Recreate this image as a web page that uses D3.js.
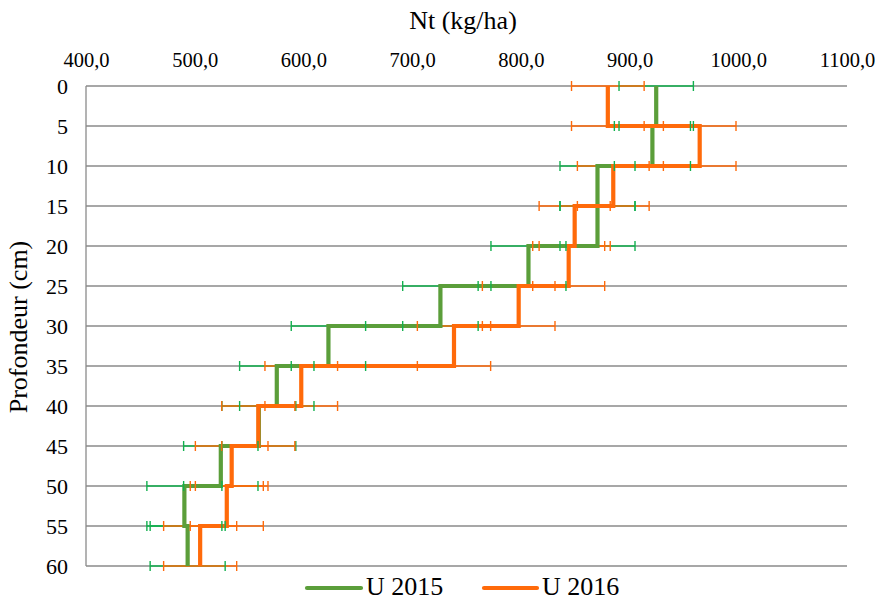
<!DOCTYPE html>
<html>
<head>
<meta charset="utf-8">
<script src="https://cdn.jsdelivr.net/npm/d3@7"></script>
<style>
  html, body { margin: 0; padding: 0; background: #fff; }
</style>
</head>
<body>
<svg id="chart" width="875" height="600"></svg>
<script>
// ---- data ----
const depthBounds = [0, 5, 10, 15, 20, 25, 30, 35, 40, 45, 50, 55, 60];
const xTickValues = [400, 500, 600, 700, 800, 900, 1000, 1100];
const seriesNames = ["U 2015", "U 2016"];
const u2015 = [924.5, 921, 870.5, 870.5, 807, 726, 623, 575.5, 559, 524, 490.5, 493.5];
const u2016 = [880, 964.5, 885, 849.5, 844, 798, 738.5, 598, 558.5, 534, 529.5, 505];
const err2015 = [34.2, 35, 34.5, 34.5, 34.5, 34.7, 34.2, 34.2, 34, 34.2, 34.5, 34.5];
const err2016 = [33.4, 33.4, 33, 32.7, 33.1, 33.4, 33.7, 33.4, 33.6, 33.4, 33.6, 33.6];

const lineColors = ["#5B9E3A", "#FF6A0A"];
const errColors = ["#12B04E", "#FF6A0A"];
const FONT = '"Liberation Serif", "Times New Roman", serif';

const svg = d3.select("#chart");
const pLeft = 86, pRight = 847, pTop = 86, pBottom = 566;

const x = d3.scaleLinear().domain([400, 1100]).range([pLeft, pRight]);
const y = d3.scaleLinear().domain([0, 60]).range([pTop, pBottom]);

const fmt = v => d3.format(".1f")(v).replace(".", ",");

// gridlines
svg.append("g").selectAll("line").data(depthBounds).join("line")
  .attr("x1", pLeft).attr("x2", pRight)
  .attr("y1", d => y(d)).attr("y2", d => y(d))
  .attr("stroke", "#8a8a8a").attr("stroke-width", 1.3);

// left axis line
svg.append("line").attr("x1", pLeft).attr("x2", pLeft).attr("y1", pTop).attr("y2", pBottom)
  .attr("stroke", "#8a8a8a").attr("stroke-width", 1.3);

// x axis (top) labels
const xAxis = d3.axisTop(x).tickValues(xTickValues).tickFormat(fmt).tickSize(0).tickPadding(0);
const gx = svg.append("g").attr("transform", `translate(0,67)`).call(xAxis);
gx.attr("font-family", FONT).attr("font-size", 20.5);
gx.select(".domain").remove();
gx.selectAll("text").attr("dy", 0).attr("fill", "#000");

// y axis labels
const yAxis = d3.axisLeft(y).tickValues(depthBounds).tickFormat(d3.format("d")).tickSize(0).tickPadding(0);
const gy = svg.append("g").attr("transform", `translate(68,0)`).call(yAxis);
gy.attr("font-family", FONT).attr("font-size", 22);
gy.select(".domain").remove();
gy.selectAll("text").attr("fill", "#000");

// titles
svg.append("text").attr("x", 463).attr("y", 29).attr("text-anchor", "middle")
  .attr("font-family", FONT).attr("font-size", 26).text("Nt (kg/ha)");
svg.append("text").attr("transform", "translate(27,327) rotate(-90)").attr("text-anchor", "middle")
  .attr("font-family", FONT).attr("font-size", 26).text("Profondeur (cm)");

// build points
function buildPoints(vals, errs) {
  const pts = [];
  vals.forEach((v, i) => {
    pts.push({ v: v, d: depthBounds[i], e: errs[i] });
    pts.push({ v: v, d: depthBounds[i + 1], e: errs[i] });
  });
  return pts;
}
const allSeries = [buildPoints(u2015, err2015), buildPoints(u2016, err2016)];

const line = d3.line().x(p => x(p.v)).y(p => y(p.d));

// error bar horizontal lines
allSeries.forEach((pts, si) => {
  svg.append("g").selectAll("line").data(pts).join("line")
    .attr("x1", p => x(p.v - p.e)).attr("x2", p => x(p.v + p.e))
    .attr("y1", p => y(p.d)).attr("y2", p => y(p.d))
    .attr("stroke", errColors[si]).attr("stroke-width", 1.4);
});

// step lines
allSeries.forEach((pts, si) => {
  svg.append("path").datum(pts).attr("d", line)
    .attr("fill", "none").attr("stroke", lineColors[si]).attr("stroke-width", 4.2)
    .attr("stroke-linejoin", "miter");
});

// error caps
allSeries.forEach((pts, si) => {
  const caps = [];
  pts.forEach(p => { caps.push({ v: p.v - p.e, d: p.d }); caps.push({ v: p.v + p.e, d: p.d }); });
  svg.append("g").selectAll("line").data(caps).join("line")
    .attr("x1", c => x(c.v)).attr("x2", c => x(c.v))
    .attr("y1", c => y(c.d) - 5).attr("y2", c => y(c.d) + 5)
    .attr("stroke", errColors[si]).attr("stroke-width", 1.4);
});

// legend
const legendItems = [{ x1: 307, x2: 361, tx: 366 }, { x1: 484, x2: 537, tx: 542 }];
legendItems.forEach((it, i) => {
  svg.append("line").attr("x1", it.x1).attr("x2", it.x2).attr("y1", 588).attr("y2", 588)
    .attr("stroke", lineColors[i]).attr("stroke-width", 4.2).attr("stroke-linecap", "round");
  svg.append("text").attr("x", it.tx).attr("y", 595).attr("font-family", FONT)
    .attr("font-size", 26).text(seriesNames[i]);
});
</script>
</body>
</html>
